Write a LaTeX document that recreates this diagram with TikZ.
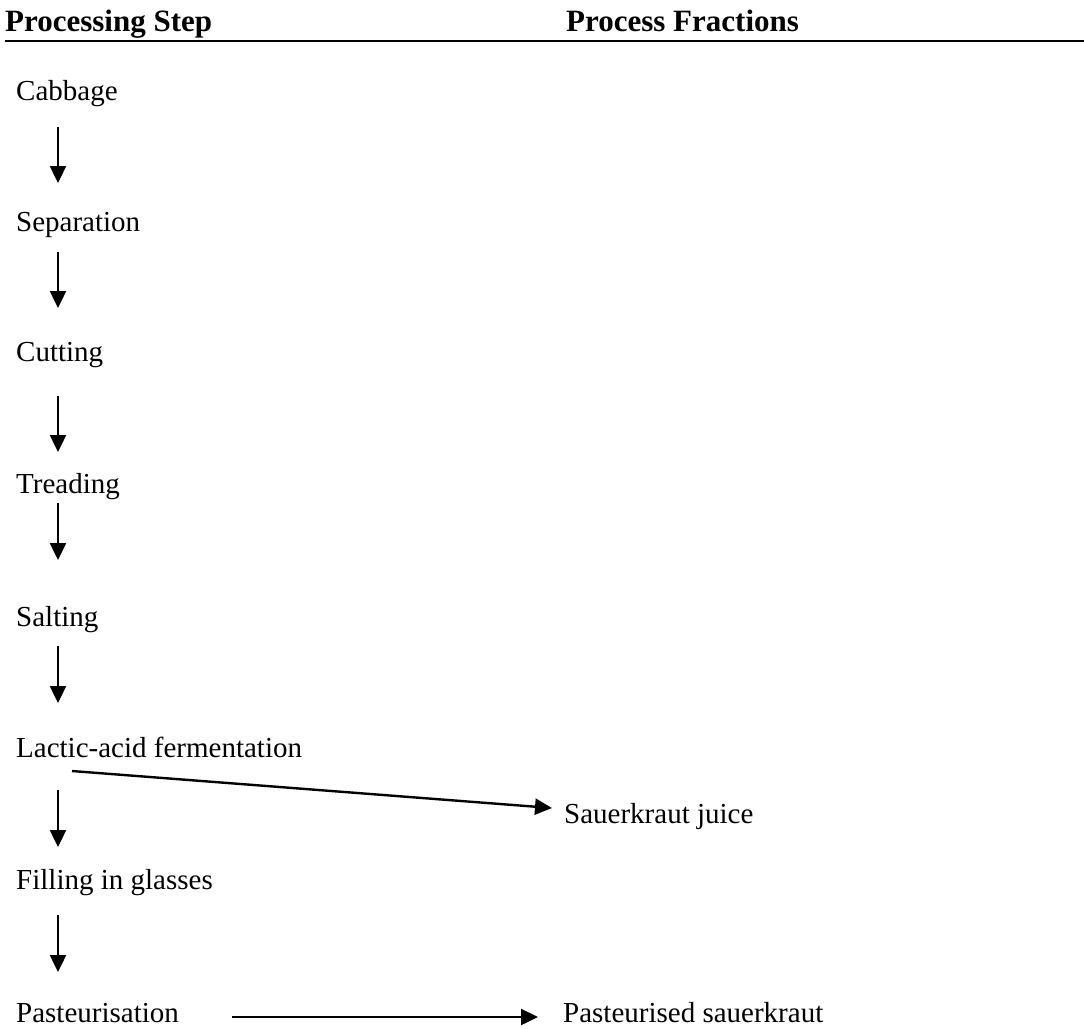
\documentclass[tikz,border=0pt]{standalone}
\usepackage{fontspec}
\setmainfont{Liberation Serif}
\usetikzlibrary{arrows.meta,calc}
\begin{document}
\begin{tikzpicture}[x=1pt,y=-1pt,
  lbl/.style={anchor=base west,inner sep=0pt,font=\fontsize{29}{34}\selectfont},
  head/.style={lbl,font=\fontsize{31}{36}\selectfont\bfseries},
  arr/.style={line width=2.4pt,-{Triangle[length=17pt,width=16pt]}}]
\useasboundingbox (0,0) rectangle (1084,1028);
% column headings and rule
\node[head] (h1) at (5,31) {Processing Step};
\node[head] (h2) at (566,31) {Process Fractions};
\coordinate (rl) at (5,41);
\coordinate (rr) at (1084,41);
\draw[line width=2.6pt] (rl) -- (rr);
% processing steps
\node[lbl] (cab) at (16,100) {Cabbage};
\node[lbl] (sep) at (16,231) {Separation};
\node[lbl] (cut) at (16,361) {Cutting};
\node[lbl] (tre) at (16,493) {Treading};
\node[lbl] (sal) at (16,626) {Salting};
\node[lbl] (lac) at (16,757) {Lactic-acid fermentation};
\node[lbl] (fil) at (16,889) {Filling in glasses};
\node[lbl] (pas) at (16,1022) {Pasteurisation};
% process fractions
\node[lbl] (juice) at (564,823) {Sauerkraut juice};
\node[lbl] (kraut) at (563,1022) {Pasteurised sauerkraut};
% flow arrows
\draw[arr] ($(cab.base west)+(42,27)$) -- ($(sep.base west)+(42,-48)$);
\draw[arr] ($(sep.base west)+(42,21)$) -- ($(cut.base west)+(42,-53)$);
\draw[arr] ($(cut.base west)+(42,35)$) -- ($(tre.base west)+(42,-41)$);
\draw[arr] ($(tre.base west)+(42,10)$) -- ($(sal.base west)+(42,-66)$);
\draw[arr] ($(sal.base west)+(42,20)$) -- ($(lac.base west)+(42,-54)$);
\draw[arr] ($(lac.base west)+(42,33)$) -- ($(fil.base west)+(42,-42)$);
\draw[arr] ($(fil.base west)+(42,26)$) -- ($(pas.base west)+(42,-50)$);
\draw[arr] ($(lac.base west)+(56,14)$) -- ($(juice.base west)+(-12,-15)$);
\draw[arr] ($(pas.base west)+(216,-5)$) -- ($(kraut.base west)+(-25,-5)$);
\end{tikzpicture}
\end{document}
